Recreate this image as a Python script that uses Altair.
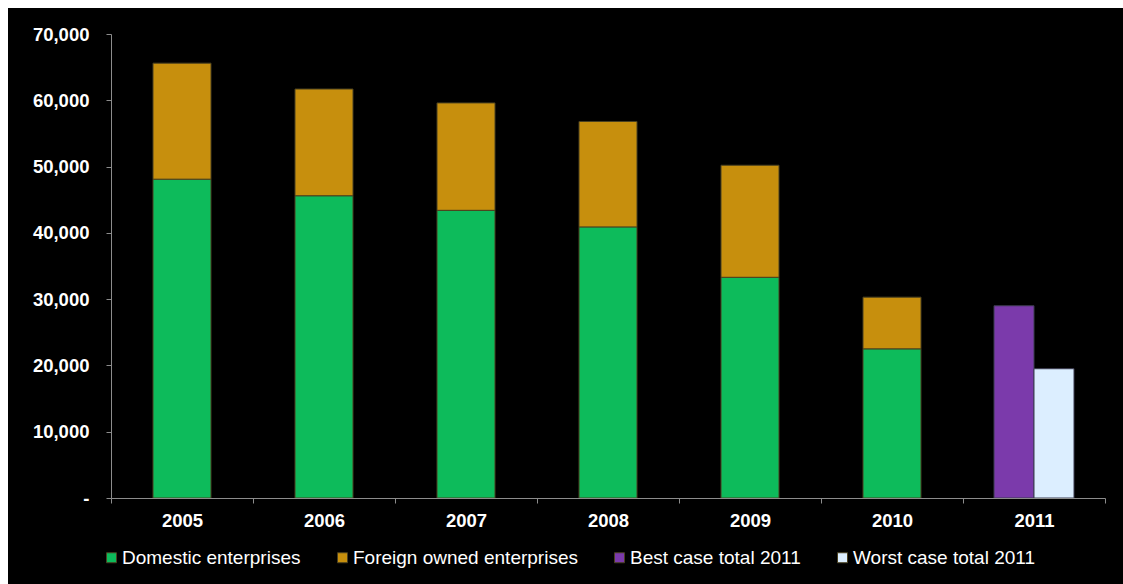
import altair as alt
import pandas as pd

years = ["2005", "2006", "2007", "2008", "2009", "2010"]
domestic = [48100, 45600, 43400, 40900, 33300, 22500]
foreign = [17500, 16100, 16200, 15900, 16900, 7800]
scen_year = "2011"
scen_names = ["Best case total 2011", "Worst case total 2011"]
scen_values = [29000, 19500]

series = ["Domestic enterprises", "Foreign owned enterprises",
          "Best case total 2011", "Worst case total 2011"]
colors = ["#0DBB5B", "#C78F0D", "#7B3AAB", "#DCEEFF"]
all_years = years + [scen_year]

rows = []
for y, d, f in zip(years, domestic, foreign):
    rows.append({"year": y, "series": series[0], "value": d, "ord": 0})
    rows.append({"year": y, "series": series[1], "value": f, "ord": 1})
stack_df = pd.DataFrame(rows)
scen_df = pd.DataFrame({"year": [scen_year] * 2, "series": scen_names, "value": scen_values})

FONT = "Liberation Sans"

x_enc = alt.X("year:N", sort=all_years,
              scale=alt.Scale(domain=all_years, paddingInner=0, paddingOuter=0),
              axis=alt.Axis(title=None, labelAngle=0, tickBand="extent", tickSize=5,
                            labelFontSize=18.5, labelFontWeight="bold", labelColor="white",
                            labelFont=FONT, domainColor="#8c8c8c", tickColor="#8c8c8c",
                            labelPadding=8, zindex=1))
y_enc = alt.Y("value:Q", stack="zero",
              scale=alt.Scale(domain=[0, 70000], nice=False),
              axis=alt.Axis(title=None, values=list(range(0, 70001, 10000)), grid=False,
                            tickSize=5, labelFontSize=18.5, labelFontWeight="bold",
                            labelColor="white", labelFont=FONT, labelPadding=17,
                            domainColor="#8c8c8c", tickColor="#8c8c8c", zindex=1,
                            labelExpr="datum.value == 0 ? '-' : format(datum.value, ',')"))
color_enc = alt.Color("series:N",
                      scale=alt.Scale(domain=series, range=colors),
                      legend=alt.Legend(title=None, orient="none", legendX=-9, legendY=514,
                                        direction="horizontal", columns=4,
                                        symbolType="square", symbolSize=100,
                                        symbolStrokeColor="#4a4020", symbolStrokeWidth=1,
                                        labelFontSize=19, labelColor="white", labelFont=FONT,
                                        labelLimit=400, columnPadding=32, labelOffset=1))

bg = alt.Chart(pd.DataFrame({"a": [0]})).mark_rect(color="black").encode(
    x=alt.value(-103), x2=alt.value(1100), y=alt.value(-26), y2=alt.value(600))

stacked = alt.Chart(stack_df).mark_bar(size=58, stroke="#4a4020", strokeWidth=1).encode(
    x=x_enc, y=y_enc, color=color_enc, order=alt.Order("ord:Q"))

scen = alt.Chart(scen_df).mark_bar(stroke="#3c3c50", strokeWidth=1).encode(
    x=x_enc,
    xOffset=alt.XOffset("series:N", sort=scen_names,
                        scale=alt.Scale(paddingInner=0, paddingOuter=0.775)),
    y=y_enc, color=color_enc)

chart = alt.layer(bg, stacked, scen).properties(
    width=994, height=464,
    autosize=alt.AutoSizeParams(type="none"),
    padding={"left": 111, "top": 34, "right": 18, "bottom": 86},
    background="white",
).configure_view(stroke=None)

chart.save("out.html", embed_options={"renderer": "svg", "actions": False})
